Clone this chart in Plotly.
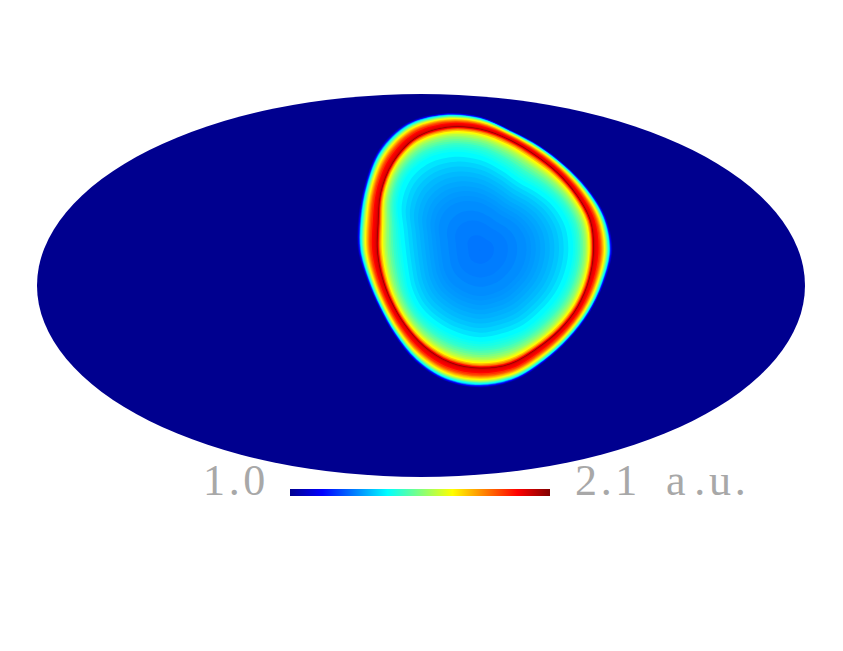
import numpy as np
import plotly.graph_objects as go
from plotly.colors import sample_colorscale

# map coordinates: Mollweide plane, x in [-2, 2], y in [-1, 1]
W, H = 843, 651
MAP_CX, MAP_CY, PX_X, PX_Y = 421, 285.5, 192.0, 191.5

VMIN, VMAX = 1.0, 2.1

# blob, radius in px along each ray from blob centre
angles = [0, 15, 30, 45, 60, 75, 90, 105, 120, 135, 150, 165,
          180, 195, 210, 225, 240, 255, 270, 285, 300, 315, 330, 345]
core_r = [93, 93, 90, 85, 82, 87, 95, 102, 106, 104, 95, 83,
          78, 78, 82, 86, 88, 90, 92, 91, 91, 90, 91, 92]
ring_r = [113.5, 114.3, 111.3, 109.7, 110.2, 114.5, 121.5, 127.5, 129.5, 123.5, 114.5, 105.3,
          102.5, 101.5, 102.5, 106, 111.5, 116.5, 118.3, 118, 114, 113, 113, 113]
edge_r = [132.5, 130, 124.5, 120.7, 120.7, 124, 134, 142, 147, 143, 133, 126,
          122, 117, 116.5, 121, 129, 135.7, 137.8, 135.3, 129.5, 126.5, 126.5, 128.5]
blob_centre = (0.307, 0.185)

# value along a ray, from the edge in. Fraction of the way from ring to edge
outer_frac = [1.0, 0.97, 0.95, 0.93, 0.90, 0.87, 0.85, 0.83, 0.80, 0.76, 0.73, 0.69, 0.65,
              0.61, 0.56, 0.51, 0.46, 0.41, 0.35, 0.27, 0.20, 0.14, 0.09, 0.05, 0.02]
outer_val = [1.03, 1.07, 1.10, 1.14, 1.22, 1.31, 1.36, 1.41, 1.45, 1.50, 1.55, 1.60, 1.65,
             1.69, 1.735, 1.78, 1.825, 1.87, 1.91, 1.96, 1.975, 1.985, 2.00, 2.02, 2.06]
# fraction of the way from core contour to ring
mid_frac = [1.0, 0.99, 0.975, 0.96, 0.94, 0.92, 0.90, 0.87, 0.82, 0.76,
            0.70, 0.64, 0.58, 0.50, 0.42, 0.34, 0.26, 0.18, 0.09, 0.0]
mid_val = [2.10, 2.02, 1.98, 1.96, 1.90, 1.85, 1.825, 1.76, 1.69, 1.65,
           1.61, 1.58, 1.55, 1.52, 1.495, 1.47, 1.455, 1.44, 1.425, 1.41]
# fraction of the core contour radius
core_frac = [0.95, 0.90, 0.85, 0.80, 0.75, 0.70, 0.65, 0.60, 0.55, 0.50, 0.40, 0.30, 0.15]
core_val = [1.385, 1.365, 1.35, 1.337, 1.327, 1.318, 1.31, 1.303, 1.297, 1.29, 1.28, 1.272, 1.265]

tick_labels = ["1\u200a.\u200a0", "2\u200a.\u200a1", "a\u2009.\u200au\u200a."]
tick_px = [203, 575, 666]

jet = [[0, "#00008f"], [0.125, "#0000ff"], [0.375, "#00ffff"], [0.625, "#ffff00"], [0.875, "#ff0000"], [1, "#800000"]]


def colour(v):
    return sample_colorscale(jet, [(v - VMIN) / (VMAX - VMIN)])[0]


theta = np.radians(angles)
core = np.array(core_r) / PX_X
ring = np.array(ring_r) / PX_X
edge = np.array(edge_r) / PX_X

fig = go.Figure()


def add_band(radius, value):
    x = blob_centre[0] + radius * np.cos(theta)
    y = blob_centre[1] + radius * np.sin(theta)
    fig.add_trace(go.Scatter(
        x=np.append(x, x[0]), y=np.append(y, y[0]), mode="lines", fill="toself",
        fillcolor=colour(value), line=dict(color=colour(value), width=0, shape="spline", smoothing=1.0),
        hoverinfo="skip", showlegend=False,
    ))


for frac, val in zip(outer_frac, outer_val):
    add_band(ring + frac * (edge - ring), val)
for frac, val in zip(mid_frac, mid_val):
    add_band(core + frac * (ring - core), val)
for frac, val in zip(core_frac, core_val):
    add_band(core * frac, val)

# only there to carry the colour bar
fig.add_trace(go.Scatter(
    x=[blob_centre[0]], y=[blob_centre[1]], mode="markers", showlegend=False, hoverinfo="skip",
    marker=dict(size=1, color=[1.265], colorscale=jet, cmin=VMIN, cmax=VMAX, showscale=True,
                colorbar=dict(orientation="h", thickness=7, thicknessmode="pixels",
                              len=260, lenmode="pixels", x=420 / W, xanchor="center",
                              y=1 - 496 / H, yanchor="bottom", xpad=0, ypad=0,
                              outlinewidth=0, showticklabels=False, ticks="")),
))

fig.add_shape(type="circle", xref="x", yref="y", x0=-2, x1=2, y0=-1, y1=1,
              fillcolor="#00008f", line_width=0, layer="below")

label_font = dict(family="Liberation Serif", size=44, color="#a8a8a8")
for text, px_x in zip(tick_labels, tick_px):
    fig.add_annotation(text=text, xref="paper", yref="paper", x=px_x / W, y=1 - 505 / H,
                       xanchor="left", yanchor="bottom", showarrow=False, font=label_font,
                       borderpad=0, borderwidth=0)

fig.update_layout(
    width=W, height=H, margin=dict(l=0, r=0, t=0, b=0),
    paper_bgcolor="white", plot_bgcolor="white",
    xaxis=dict(range=[(0 - MAP_CX) / PX_X, (W - MAP_CX) / PX_X], visible=False, fixedrange=True),
    yaxis=dict(range=[(MAP_CY - H) / PX_Y, MAP_CY / PX_Y], visible=False, fixedrange=True),
)

fig.write_html("out.html", config={"displayModeBar": False},
               post_script="document.body.style.margin = '0';")
